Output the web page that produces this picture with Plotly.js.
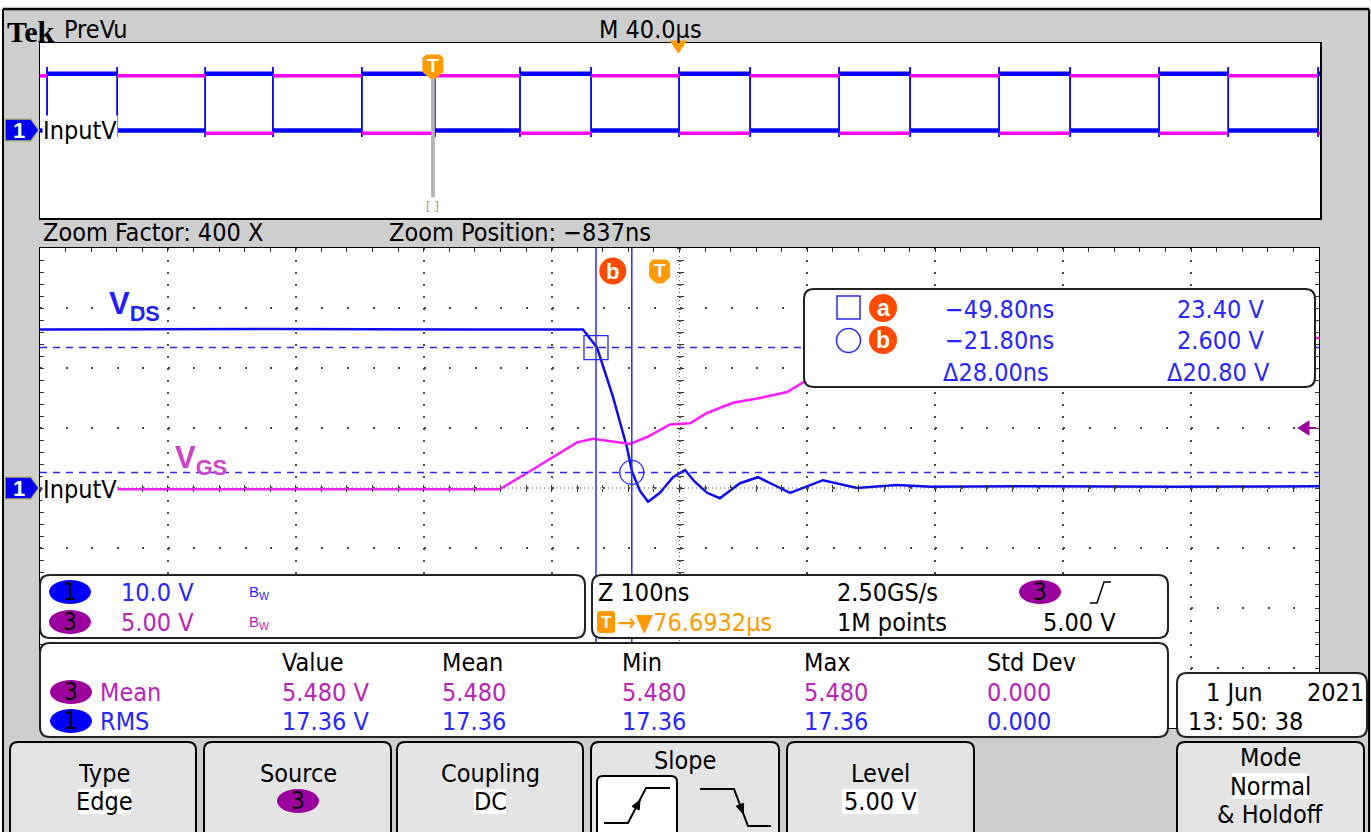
<!DOCTYPE html>
<html><head><meta charset="utf-8">
<script src="https://cdn.plot.ly/plotly-3.0.1.min.js"></script>
<style>html,body{margin:0;padding:0;background:#fff;}#chart{width:1371px;height:832px;}</style>
</head><body><div id="chart"></div>
<script>
// ================= DATA =================
// Zoom window (Z 100 ns/div). Channel 1 = VDS (10 V/div), channel 3 = VGS (5 V/div)
const vdsTimeNs = [-484.5, -300, -150, -60, -49.0, -36.5, -25.6, -21.7, -15.4, -9.1, 0.2, 10.4, 19.8, 27.6, 37.0, 47.1, 62.8, 76.9, 94.1, 101.9, 127.7, 154.3, 185.6, 212, 300, 400, 515.5];
const vdsVolts  = [26.4, 26.5, 26.4, 26.4, 23.4, 15.2, 6.8, 2.8, -0.5, -2.3, -0.8, 1.8, 3.0, 1.0, -0.8, -1.7, 0.8, 1.8, 0.0, -0.8, 1.3, 0.0, 0.5, 0.2, 0.3, 0.2, 0.3];
const vgsTimeNs = [-484.5, -300, -125, -103.8, -83.4, -64.6, -52.1, -31.0, -23.2, -9.9, 8.1, 23.7, 37.0, 57.3, 78.5, 99.6, 112.1, 150, 250, 515.5];
const vgsVolts  = [-0.1, -0.1, -0.1, 1.25, 2.6, 3.8, 4.1, 3.75, 3.67, 4.25, 5.3, 5.4, 6.25, 7.1, 7.5, 8.0, 8.8, 10.5, 12.0, 12.5];
const mainRangeNs = [-484.5, 515.5];
// Cursors
const cursorNames = ['a', 'b'];
const cursorTimeNs = [-49.80, -21.80];
const cursorVolts = [23.40, 2.600];
// PreVu record (M 40.0 µs/div): channel 1 edge times (µs from record start); channel 3 is complementary
const ch1RiseUs = [2.2, 51.6, 100.6, 150.0, 199.7, 249.7, 299.7, 349.7, 399.4];
const ch1FallUs = [24.1, 72.8, 123.4, 172.2, 221.9, 271.9, 321.9, 371.3];
const ch1LevelsV = [0.0, 26.0];
const ch3LevelsV = [-0.6, 12.5];
const triggerUs = 122.8;
const zoomDelayUs = 76.6932;
const triggerLevelV = 5.00;
// Channel settings
const chNames = ['1', '3'];
const chScales = ['10.0 V', '5.00 V'];
// Measurements
const measHeaders = ['Value', 'Mean', 'Min', 'Max', 'Std Dev'];
const measSource = ['3', '1'];
const measType = ['Mean', 'RMS'];
const measValue = ['5.480 V', '17.36 V'];
const measMean = ['5.480', '17.36'];
const measMin = ['5.480', '17.36'];
const measMax = ['5.480', '17.36'];
const measStd = ['0.000', '0.000'];

// ================= GEOMETRY / STYLE =================
const W = 1371, H = 832;
const MX0 = 40, MX1 = 1319, MY0 = 248, MY1 = 728;
const PX0 = 40, PX1 = 1320, PY0 = 43, PY1 = 218;
const F = '"DejaVu Sans Condensed", "Liberation Sans", sans-serif';
const FS = 25;
const BLUE_T = '#2626ff', MAG_T = '#bb22bb', ORANGE = '#ff9a00', RED = '#ff4a00', PURPLE = '#9c009c';
const px = x => x / W, py = y => 1 - y / H;
const mainPx = t => MX0 + (t - mainRangeNs[0]) / (mainRangeNs[1] - mainRangeNs[0]) * (MX1 - MX0);
const mainPy3 = v => MY1 - (v + 20) / 40 * (MY1 - MY0);
const prevPx = t => PX0 + t / 400 * (PX1 - PX0);

const ann = [], shp = [];
function T(x, y, text, o = {}) {
  ann.push({xref: 'paper', yref: 'paper', x: px(x), y: py(y), text: text, showarrow: false,
    xanchor: o.xa || 'left', yanchor: 'middle',
    font: {family: o.fam || F, size: o.size || FS, color: o.color || '#000'},
    bgcolor: o.bg || 'rgba(0,0,0,0)', borderpad: o.pad || 0});
}
function P(x, y) { return px(x) + ',' + py(y); }
function path(d, fill, line, lw) {
  shp.push({type: 'path', xref: 'paper', yref: 'paper', path: d, fillcolor: fill || 'rgba(0,0,0,0)',
    line: {color: line || 'rgba(0,0,0,0)', width: lw || 0}, layer: 'above'});
}
function rect(x0, y0, x1, y1, fill, line, lw) {
  shp.push({type: 'rect', xref: 'paper', yref: 'paper', x0: px(x0), x1: px(x1), y0: py(y0), y1: py(y1),
    fillcolor: fill, line: {color: line || 'rgba(0,0,0,0)', width: lw || 0}, layer: 'above'});
}
function rrect(x0, y0, x1, y1, r, fill, line, lw) {
  const d = 'M' + P(x0 + r, y0) + ' L' + P(x1 - r, y0) + ' Q' + P(x1, y0) + ' ' + P(x1, y0 + r) +
    ' L' + P(x1, y1 - r) + ' Q' + P(x1, y1) + ' ' + P(x1 - r, y1) + ' L' + P(x0 + r, y1) +
    ' Q' + P(x0, y1) + ' ' + P(x0, y1 - r) + ' L' + P(x0, y0 + r) + ' Q' + P(x0, y0) + ' ' + P(x0 + r, y0) + ' Z';
  path(d, fill, line, lw);
}
function poly(pts, fill, line, lw, closed) {
  let d = 'M' + P(pts[0][0], pts[0][1]);
  for (let i = 1; i < pts.length; i++) d += ' L' + P(pts[i][0], pts[i][1]);
  if (closed) d += ' Z';
  path(d, fill, line, lw);
}
function ell(cx, cy, rx, ry, fill, line, lw) {
  shp.push({type: 'circle', xref: 'paper', yref: 'paper', x0: px(cx - rx), x1: px(cx + rx), y0: py(cy + ry), y1: py(cy - ry),
    fillcolor: fill, line: {color: line || 'rgba(0,0,0,0)', width: lw || 0}, layer: 'above'});
}
function seg(x0, y0, x1, y1, color, w, dash) {
  shp.push({type: 'line', xref: 'paper', yref: 'paper', x0: px(x0), x1: px(x1), y0: py(y0), y1: py(y1),
    line: {color: color, width: w, dash: dash || 'solid'}, layer: 'above'});
}
function shield(cx, y0, color) {
  poly([[cx - 10, y0 + 3], [cx - 7, y0], [cx + 7, y0], [cx + 10, y0 + 3], [cx + 10, y0 + 17], [cx + 3, y0 + 23], [cx - 3, y0 + 23], [cx - 10, y0 + 17]], color, color, 1, true);
  T(cx, y0 + 10, '<b>T</b>', {xa: 'center', size: 19, color: '#fff', fam: 'Liberation Sans, sans-serif'});
}
function badge(cx, cy, label, fill) {
  ell(cx, cy, 21, 12, fill);
  T(cx, cy, label, {xa: 'center', size: 24});
}
function chMarker(cy) {
  poly([[5, cy - 11], [31, cy - 11], [39, cy], [31, cy + 11], [5, cy + 11]], '#0000ee', '#b8b878', 1.5, true);
  T(19, cy, '<b>1</b>', {xa: 'center', size: 22, color: '#fff', fam: 'Liberation Sans, sans-serif'});
}

// ================= PREVIEW WAVES =================
function squareWave(rises, falls, lv, startHigh, ov) {
  const ev = rises.map(t => [t, 1]).concat(falls.map(t => [t, 0])).sort((a, b) => a[0] - b[0]);
  let state = startHigh, prev = 0;
  const lx = [], ly = [], ex = [], ey = [];
  ev.forEach(([t, s]) => {
    const v = state ? lv[1] : lv[0];
    lx.push(prev, t, null); ly.push(v, v, null);
    ex.push(t, t, null); ey.push(lv[0] - ov, lv[1] + ov, null);
    state = s; prev = t;
  });
  const v = state ? lv[1] : lv[0];
  lx.push(prev, 400); ly.push(v, v);
  return {lx, ly, ex, ey};
}
const w1 = squareWave(ch1RiseUs, ch1FallUs, ch1LevelsV, false, 3);
const w3 = squareWave(ch1FallUs, ch1RiseUs, ch3LevelsV, true, 0);

const traces = [
  {x: w3.lx, y: w3.ly, xaxis: 'x2', yaxis: 'y4', mode: 'lines', line: {color: '#ff00ff', width: 3.5}, hoverinfo: 'skip'},
  {x: w1.lx, y: w1.ly, xaxis: 'x2', yaxis: 'y3', mode: 'lines', line: {color: '#0000ff', width: 4.5}, hoverinfo: 'skip'},
  {x: w1.ex, y: w1.ey, xaxis: 'x2', yaxis: 'y3', mode: 'lines', line: {color: '#0000ff', width: 1.8}, hoverinfo: 'skip'},
  {x: vgsTimeNs, y: vgsVolts, xaxis: 'x', yaxis: 'y2', mode: 'lines', line: {color: '#ff1aff', width: 2.5}, hoverinfo: 'skip'},
  {x: vdsTimeNs, y: vdsVolts, xaxis: 'x', yaxis: 'y', mode: 'lines', line: {color: '#0b0bf5', width: 2.5}, hoverinfo: 'skip'},
  {x: cursorTimeNs, y: cursorVolts, xaxis: 'x', yaxis: 'y', mode: 'markers', hoverinfo: 'skip',
    marker: {symbol: ['square-open', 'circle-open'], size: 24, color: '#2a2aff', line: {width: 1.3, color: '#2a2aff'}}},
  {x: [null], y: [null], xaxis: 'x5', yaxis: 'y', mode: 'lines', hoverinfo: 'skip'},
  {x: [null], y: [null], xaxis: 'x6', yaxis: 'y', mode: 'lines', hoverinfo: 'skip'},
  {x: [null], y: [null], xaxis: 'x', yaxis: 'y5', mode: 'lines', hoverinfo: 'skip'},
  {x: [null], y: [null], xaxis: 'x', yaxis: 'y6', mode: 'lines', hoverinfo: 'skip'}
];

// ================= SHAPES / TEXT =================
// outer frame
rect(0, 0, W, 9, '#ffffff');
rect(0, 0, 3, H, '#ffffff');
seg(3, 9, 1369, 9, '#000', 2.5);
seg(3, 9, 3, H, '#000', 2);
seg(1369, 9, 1369, H, '#000', 2);

// header
T(6, 31, '<b>Tek</b>', {size: 30, fam: '"Liberation Serif", serif'});
T(63, 30, 'PreVu');
T(598, 29, 'M 40.0µs');

// preview decorations
shp.push({type: 'rect', xref: 'x2', yref: 'paper', x0: triggerUs - 0.6, x1: triggerUs + 0.6, y0: py(197), y1: py(55),
  fillcolor: '#b4b4b4', line: {width: 0}, layer: 'above'});
T(prevPx(triggerUs), 207, '[ ]', {xa: 'center', size: 13, color: '#999'});
shield(prevPx(triggerUs), 55, ORANGE);
{
  const cx = prevPx(triggerUs + zoomDelayUs);
  poly([[cx - 8, 41], [cx + 8, 41], [cx, 53]], ORANGE, ORANGE, 1, true);
}
chMarker(130);
T(42, 130, 'InputV', {bg: '#fff'});

// zoom info
T(42, 233, 'Zoom Factor: 400 X');
T(388, 233, 'Zoom Position: −837ns');

// main graticule center dense lines
seg((MX0 + MX1) / 2, MY0, (MX0 + MX1) / 2, MY1, '#555', 1, '1px,3px');
seg(MX0, (MY0 + MY1) / 2, MX1, (MY0 + MY1) / 2, '#555', 1, '1px,3px');

// cursors
cursorTimeNs.forEach(t => {
  shp.push({type: 'line', xref: 'x', yref: 'paper', x0: t, x1: t, y0: py(MY1), y1: py(MY0), line: {color: '#2a2aff', width: 1.5}, layer: 'above'});
});
cursorVolts.forEach(v => {
  shp.push({type: 'line', xref: 'paper', yref: 'y', x0: px(MX0), x1: px(MX1), y0: v, y1: v, line: {color: '#2a2aff', width: 1.5, dash: '7px,6px'}, layer: 'above'});
});
{
  const bx = mainPx(cursorTimeNs[1]) - 19;
  ell(bx, 271, 13.5, 13.5, RED);
  T(bx, 271, '<b>' + cursorNames[1] + '</b>', {xa: 'center', size: 22, color: '#fff', fam: 'Liberation Sans, sans-serif'});
}
shield(mainPx(0), 260, ORANGE);

// trace labels
T(108, 306, '<b>V<sub>DS</sub></b>', {size: 31, color: '#1d1dff', fam: 'Liberation Sans, sans-serif'});
T(174, 460, '<b>V<sub>GS</sub></b>', {size: 31, color: '#cc44cc', fam: 'Liberation Sans, sans-serif'});
chMarker(488);
T(42, 489, 'InputV', {bg: '#fff'});

// trigger level arrow (channel 3)
{
  const y = mainPy3(triggerLevelV);
  poly([[1298, y], [1309, y - 7], [1309, y + 7]], PURPLE, PURPLE, 1, true);
  seg(1305, y, 1316, y, PURPLE, 2);
}

// cursor readout box
rrect(804, 289, 1315, 387, 10, '#fff', '#222', 2);
path('M' + P(837, 296) + ' L' + P(860, 296) + ' L' + P(860, 319) + ' L' + P(837, 319) + ' Z', 'rgba(0,0,0,0)', '#2a2aff', 1.5);
ell(848.5, 340.5, 12, 12, 'rgba(0,0,0,0)', '#2a2aff', 1.5);
cursorNames.forEach((n, i) => {
  const cy = i === 0 ? 308 : 340;
  ell(883, cy, 14, 14, RED);
  T(883, cy, '<b>' + n + '</b>', {xa: 'center', size: 23, color: '#fff', fam: 'Liberation Sans, sans-serif'});
});
const fmtT = t => (t < 0 ? '−' : '') + Math.abs(t).toFixed(2) + 'ns';
const fmtV = v => v.toPrecision(4) + ' V';
T(944, 309, fmtT(cursorTimeNs[0]), {color: BLUE_T});
T(1176, 309, fmtV(cursorVolts[0]), {color: BLUE_T});
T(944, 341, fmtT(cursorTimeNs[1]), {color: BLUE_T});
T(1176, 341, fmtV(cursorVolts[1]), {color: BLUE_T});
T(942, 372, 'Δ' + fmtT(cursorTimeNs[1] - cursorTimeNs[0]), {color: BLUE_T});
T(1166, 372, 'Δ' + fmtV(cursorVolts[0] - cursorVolts[1]), {color: BLUE_T});

// channel box
rrect(40, 575, 585, 638, 10, '#fff', '#222', 2);
const chFill = ['#0000ff', PURPLE], chColor = [BLUE_T, MAG_T];
chNames.forEach((c, i) => {
  const cy = 592 + i * 30;
  badge(70, cy, c, chFill[i]);
  T(120, cy, chScales[i], {color: chColor[i]});
  T(248, cy, 'B<sub>W</sub>', {size: 15, color: chColor[i], fam: 'Liberation Sans, sans-serif'});
});

// timebase / trigger box
rrect(592, 575, 1168, 638, 10, '#fff', '#222', 2);
T(597, 592, 'Z 100ns');
rrect(597, 611, 615, 633, 3, ORANGE);
T(606, 622, '<b>T</b>', {xa: 'center', size: 17, color: '#fff', fam: 'Liberation Sans, sans-serif'});
T(616, 622, '→▼' + zoomDelayUs.toFixed(4) + 'µs', {color: ORANGE});
T(836, 592, '2.50GS/s');
T(836, 622, '1M points');
badge(1040, 592, chNames[1], PURPLE);
poly([[1090, 603], [1097, 603], [1104, 582], [1111, 582]], null, '#000', 1.5, false);
T(1042, 622, triggerLevelV.toFixed(2) + ' V');

// measurement box
rrect(40, 643, 1168, 737, 10, '#fff', '#222', 2);
const colX = [281, 441, 621, 803, 986];
measHeaders.forEach((h, i) => T(colX[i], 662, h));
const mFill = [PURPLE, '#0000ff'], mColor = [MAG_T, BLUE_T];
measSource.forEach((s, r) => {
  const cy = 692 + r * 29;
  badge(71, cy, s, mFill[r]);
  T(99, cy, measType[r], {color: mColor[r]});
  [measValue, measMean, measMin, measMax, measStd].forEach((arr, i) => T(colX[i], cy, arr[r], {color: mColor[r]}));
});

// date box
rrect(1177, 673, 1367, 737, 10, '#fff', '#222', 2);
T(1205, 692, '1 Jun');
T(1306, 692, '2021');
T(1187, 721, '13: 50: 38');

// bottom buttons
const btn = [[10, 196], [204, 391], [397, 583], [591, 779], [787, 974], [1177, 1364]];
btn.forEach(b => rrect(b[0], 742, b[1], 850, 8, '#e4e4e4', '#000', 2));
rect(78, 789, 131, 814, '#fff');
rect(474, 789, 506, 814, '#fff');
rect(842, 789, 918, 814, '#fff');
rect(1232, 773, 1308, 799, '#fff');
T(104, 773, 'Type', {xa: 'center'});
T(104, 801, 'Edge', {xa: 'center'});
T(298, 773, 'Source', {xa: 'center'});
badge(298, 801, chNames[1], PURPLE);
T(490, 773, 'Coupling', {xa: 'center'});
T(490, 801, 'DC', {xa: 'center'});
T(685, 760, 'Slope', {xa: 'center'});
rrect(597, 776, 677, 850, 6, '#fff', '#000', 2);
poly([[604, 823], [628, 823], [646, 788], [670, 788]], null, '#000', 2, false);
poly([[640, 800], [639.2, 810.0], [632.0, 806.4]], '#000', '#000', 1, true);
poly([[700, 789], [734, 789], [748, 826], [771, 826]], null, '#000', 2, false);
poly([[743.4, 814], [743.6, 803.3], [736.2, 806.1]], '#000', '#000', 1, true);
T(880, 773, 'Level', {xa: 'center'});
T(880, 801, triggerLevelV.toFixed(2) + ' V', {xa: 'center'});
T(1270, 757, 'Mode', {xa: 'center'});
T(1270, 786, 'Normal', {xa: 'center'});
T(1270, 814, '&amp; Holdoff', {xa: 'center'});

// ================= LAYOUT =================
const base = {showgrid: false, zeroline: false, showticklabels: false, fixedrange: true};
const tickStyle = {ticks: 'inside', ticklen: 4, tickcolor: '#333', tickwidth: 1};
const centerX = ((MX0 + MX1) / 2) / W, centerY = 1 - ((MY0 + MY1) / 2) / H;
const layout = {
  width: W, height: H, margin: {l: 0, r: 0, t: 0, b: 0},
  paper_bgcolor: '#cecece', plot_bgcolor: '#ffffff', showlegend: false,
  xaxis: Object.assign({}, base, tickStyle, {domain: [MX0 / W, MX1 / W], range: mainRangeNs, anchor: 'y',
    showgrid: true, tick0: mainRangeNs[0], dtick: 100, gridcolor: '#4a4a4a', gridwidth: 2, griddash: '2px,9.99px',
    showline: true, linecolor: '#000', linewidth: 1, mirror: 'allticks',
    minor: {tick0: mainRangeNs[0], dtick: 20, ticks: 'inside', ticklen: 3, tickcolor: '#333', showgrid: false}}),
  yaxis: Object.assign({}, base, tickStyle, {domain: [1 - MY1 / H, 1 - MY0 / H], range: [-40, 40], anchor: 'x',
    showgrid: true, tick0: -40, dtick: 10, gridcolor: '#4a4a4a', gridwidth: 2, griddash: '2px,23.58px',
    showline: true, linecolor: '#000', linewidth: 1, mirror: 'allticks',
    minor: {tick0: -40, dtick: 2, ticks: 'inside', ticklen: 3, tickcolor: '#333', showgrid: false}}),
  yaxis2: Object.assign({}, base, {overlaying: 'y', range: [-20, 20], anchor: 'x', visible: false}),
  xaxis2: Object.assign({}, base, {domain: [PX0 / W, PX1 / W], range: [0, 400], anchor: 'y3', showline: true, linecolor: '#000', linewidth: 1.5, mirror: true}),
  yaxis3: Object.assign({}, base, {domain: [1 - PY1 / H, 1 - PY0 / H], range: [-40, 40], anchor: 'x2', showline: true, linecolor: '#000', linewidth: 1.5, mirror: true}),
  yaxis4: Object.assign({}, base, {overlaying: 'y3', range: [-20, 20], anchor: 'x2', visible: false}),
  xaxis5: Object.assign({}, base, {overlaying: 'x', anchor: 'free', position: centerY, range: mainRangeNs, tick0: mainRangeNs[0], dtick: 20, ticks: 'outside', ticklen: 3, tickcolor: '#333', showline: false}),
  xaxis6: Object.assign({}, base, {overlaying: 'x', anchor: 'free', position: centerY, range: mainRangeNs, tick0: mainRangeNs[0], dtick: 20, ticks: 'inside', ticklen: 3, tickcolor: '#333', showline: false}),
  yaxis5: Object.assign({}, base, {overlaying: 'y', anchor: 'free', position: centerX, range: [-40, 40], tick0: -40, dtick: 2, ticks: 'outside', ticklen: 3, tickcolor: '#333', showline: false}),
  yaxis6: Object.assign({}, base, {overlaying: 'y', anchor: 'free', position: centerX, range: [-40, 40], tick0: -40, dtick: 2, ticks: 'inside', ticklen: 3, tickcolor: '#333', showline: false}),
  shapes: shp,
  annotations: ann
};
Plotly.newPlot('chart', traces, layout, {staticPlot: true, displayModeBar: false});
</script></body></html>
